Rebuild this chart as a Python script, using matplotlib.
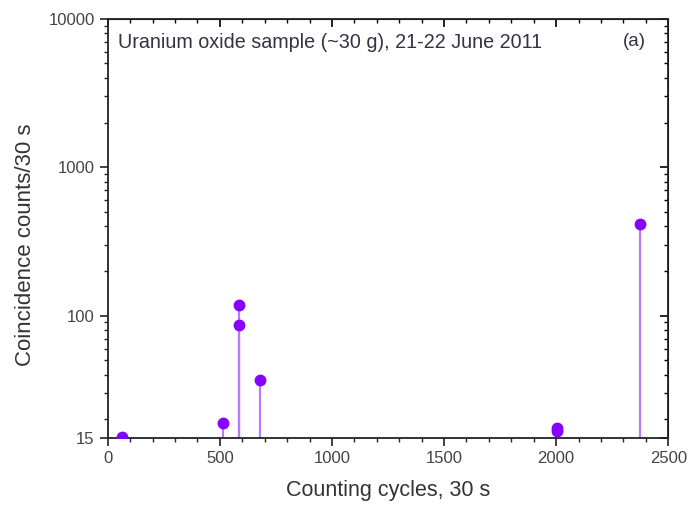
import matplotlib
matplotlib.use("Agg")
import matplotlib.pyplot as plt
from matplotlib.ticker import FixedLocator, NullFormatter, MultipleLocator

plt.rcParams.update({"font.family": ["Liberation Sans", "DejaVu Sans"],
                     "font.size": 12})

# counting cycle index and coincidence counts per 30 s
cycles = [65, 512, 586, 586, 680, 2005, 2005, 2376]
counts = [15.2, 19, 118, 87, 37, 17.5, 16.8, 416]

BASE = 15
YMAJOR = [15, 100, 1000, 10000]
YMINOR = [20, 30, 40, 50, 60, 70, 80, 90,
          200, 300, 400, 500, 600, 700, 800, 900,
          2000, 3000, 4000, 5000, 6000, 7000, 8000, 9000]

MARK = "#8800ff"
STEM = "#b97aff"
TEXT = "#333344"

fig = plt.figure(figsize=(6.91, 5.08), dpi=100)
ax = fig.add_axes([0.156, 0.138, 0.811, 0.825])

ax.vlines(cycles, BASE, counts, color=STEM, lw=1.6, zorder=2)
ax.plot(cycles, counts, "o", color=MARK, ms=7.5, zorder=3, clip_on=True)

ax.set_yscale("log")
ax.set_xlim(0, 2500)
ax.set_ylim(BASE, 10000)
ax.xaxis.set_major_locator(MultipleLocator(500))
ax.xaxis.set_minor_locator(MultipleLocator(100))
ax.yaxis.set_major_locator(FixedLocator(YMAJOR))
ax.yaxis.set_major_formatter(plt.FuncFormatter(lambda v, p: f"{v:.0f}"))
ax.yaxis.set_minor_locator(FixedLocator(YMINOR))
ax.yaxis.set_minor_formatter(NullFormatter())

ax.tick_params(which="major", direction="out", length=6, width=1.2,
               labelsize=12, colors="#222222", labelcolor="#444444")
ax.tick_params(which="minor", direction="out", length=3, width=1.0,
               colors="#222222")
for sp in ax.spines.values():
    sp.set_linewidth(1.3)
    sp.set_color("#222222")

# inward ticks on the top and right frame
top = ax.secondary_xaxis("top")
top.xaxis.set_major_locator(MultipleLocator(500))
top.xaxis.set_minor_locator(MultipleLocator(100))
top.tick_params(which="major", direction="in", length=6, width=1.2,
                labeltop=False)
top.tick_params(which="minor", direction="in", length=3, width=1.0)
right = ax.secondary_yaxis("right")
right.yaxis.set_major_locator(FixedLocator(YMAJOR))
right.yaxis.set_minor_locator(FixedLocator(YMINOR))
right.yaxis.set_minor_formatter(NullFormatter())
right.tick_params(which="major", direction="in", length=6, width=1.2,
                  labelright=False)
right.tick_params(which="minor", direction="in", length=3, width=1.0)

ax.set_xlabel("Counting cycles, 30 s", fontsize=15.5, color="#333333",
              labelpad=10)
ax.set_ylabel("Coincidence counts/30 s", fontsize=16, color="#333333")
ax.yaxis.set_label_coords(-0.128, 0.46)

ax.text(0.018, 0.965, "Uranium oxide sample (~30 g), 21-22 June 2011",
        transform=ax.transAxes, ha="left", va="top", fontsize=14.2,
        color=TEXT)
ax.text(0.94, 0.965, "(a)", transform=ax.transAxes, ha="center", va="top",
        fontsize=13.5, color=TEXT)

fig.savefig("out.png", dpi=100)
